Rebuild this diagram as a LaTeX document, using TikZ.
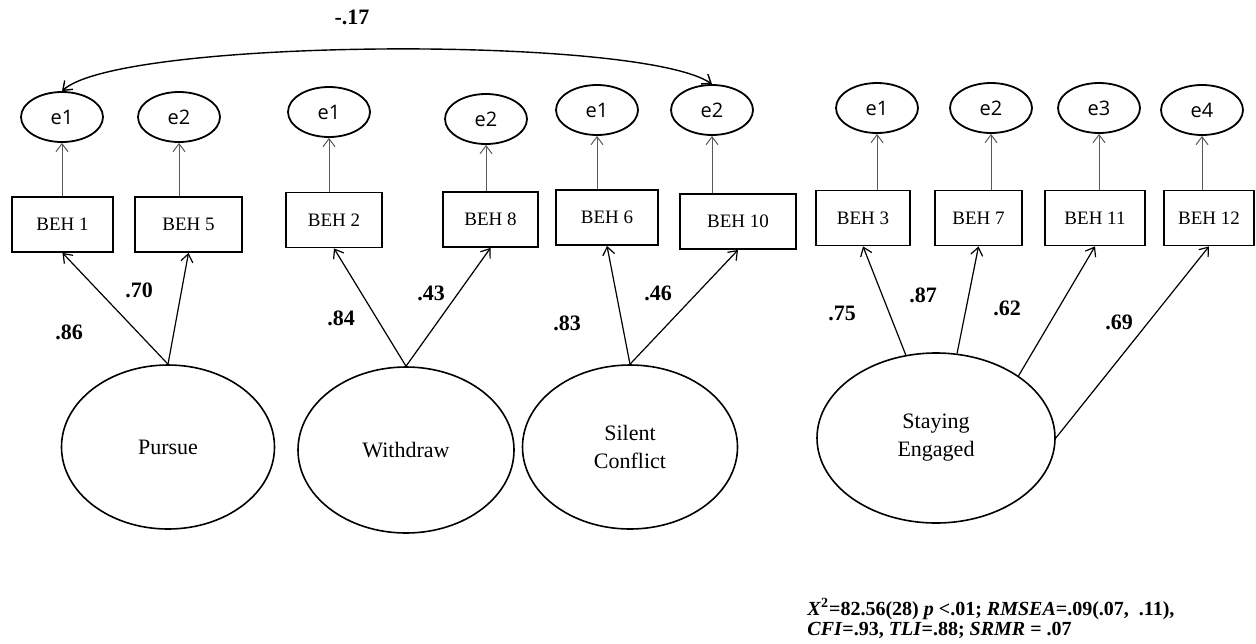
\documentclass[tikz,border=0pt]{standalone}
\usepackage{fontspec}
\setmainfont{Liberation Serif}
\newfontfamily\efont{Open Sans}
\usetikzlibrary{shapes.geometric,arrows.meta}
\begin{document}
\begin{tikzpicture}[x=0.5pt,y=-0.5pt,
  errell/.style={ellipse,draw,line width=0.9pt,minimum width=41pt,minimum height=25pt,inner sep=0pt,font=\efont\fontsize{10}{12}\selectfont},
  obs/.style={rectangle,draw,line width=0.9pt,minimum height=27.5pt,inner sep=0pt,font=\fontsize{9.5}{11}\selectfont},
  lat/.style={ellipse,draw,line width=0.8pt,inner sep=0pt,align=center,font=\fontsize{11}{14}\selectfont},
  errarr/.style={draw=black!65,line width=0.5pt,-{Straight Barb[length=4pt,width=6pt]}},
  loadarr/.style={line width=0.6pt,-{Straight Barb[length=4pt,width=6pt]}},
  coef/.style={font=\bfseries\fontsize{11}{13}\selectfont,inner sep=0pt},
  fit/.style={anchor=west,inner sep=0pt,font=\bfseries\fontsize{10}{12}\selectfont}]
\useasboundingbox (0,0) rectangle (1256,643);

% observed indicators
\node[obs,minimum width=50.5pt] (b1) at (62.5,224.5) {BEH 1};
\node[obs,minimum width=53.5pt] (b5) at (188.5,224.5) {BEH 5};
\node[obs,minimum width=48pt] (b2) at (334,220) {BEH 2};
\node[obs,minimum width=47.5pt] (b8) at (490.5,219.5) {BEH 8};
\node[obs,minimum width=51pt] (b6) at (607,217.5) {BEH 6};
\node[obs,minimum width=58pt] (b10) at (738,221.5) {BEH 10};
\node[obs,minimum width=47pt] (b3) at (863,218) {BEH 3};
\node[obs,minimum width=43.5pt] (b7) at (978.5,218) {BEH 7};
\node[obs,minimum width=50pt] (b11) at (1095,218) {BEH 11};
\node[obs,minimum width=45pt] (b12) at (1209,218) {BEH 12};

% error terms
\node[errell] (pe1) at (62,117) {e1};
\node[errell] (pe2) at (179,117) {e2};
\node[errell] (we1) at (329,112) {e1};
\node[errell] (we2) at (486,119) {e2};
\node[errell] (se1) at (597,110) {e1};
\node[errell] (se2) at (712,110) {e2};
\node[errell] (ge1) at (877,108) {e1};
\node[errell] (ge2) at (991,108) {e2};
\node[errell] (ge3) at (1099,108) {e3};
\node[errell] (ge4) at (1202,110) {e4};

\draw[errarr] (pe1.south |- b1.north) -- (pe1.south);
\draw[errarr] (pe2.south |- b5.north) -- (pe2.south);
\draw[errarr] (we1.south |- b2.north) -- (we1.south);
\draw[errarr] (we2.south |- b8.north) -- (we2.south);
\draw[errarr] (se1.south |- b6.north) -- (se1.south);
\draw[errarr] (se2.south |- b10.north) -- (se2.south);
\draw[errarr] (ge1.south |- b3.north) -- (ge1.south);
\draw[errarr] (ge2.south |- b7.north) -- (ge2.south);
\draw[errarr] (ge3.south |- b11.north) -- (ge3.south);
\draw[errarr] (ge4.south |- b12.north) -- (ge4.south);

% latent factors
\node[lat,minimum width=106.5pt,minimum height=82pt] (P) at (168,447) {Pursue};
\node[lat,minimum width=108pt,minimum height=83pt] (W) at (406,450) {Withdraw};
\node[lat,minimum width=107.5pt,minimum height=82pt] (S) at (630,447) {Silent\\Conflict};
\node[lat,minimum width=119pt,minimum height=85pt] (G) at (936,438) {Staying\\Engaged};

% loadings
\draw[loadarr] (P.north) -- (b1.south);
\draw[loadarr] (P.north) -- (b5.south);
\draw[loadarr] (W.north) -- (b2.south);
\draw[loadarr] (W.north) -- (b8.south);
\draw[loadarr] (S.north) -- (b6.south);
\draw[loadarr] (S.north) -- (b10.south);
\draw[loadarr] (G.110) -- (b3.south);
\draw[loadarr] (G.76) -- (b7.south);
\draw[loadarr] (G.37) -- (b11.south);
\draw[loadarr] (G.east) -- (b12.south);

\node[coef] (l86) at (69,332) {.86};
\node[coef] (l70) at (139,290) {.70};
\node[coef] (l84) at (341,318) {.84};
\node[coef] (l43) at (431,293) {.43};
\node[coef] (l83) at (567,323) {.83};
\node[coef] (l46) at (658,293) {.46};
\node[coef] (l75) at (842,313) {.75};
\node[coef] (l87) at (923,295) {.87};
\node[coef] (l62) at (1007,308) {.62};
\node[coef] (l69) at (1119,322) {.69};

% correlated errors
\draw[line width=0.7pt,{Straight Barb[length=4pt,width=6pt]}-{Straight Barb[length=4pt,width=6pt]}]
  (pe1.north) .. controls (120,38) and (640,35) .. (se2.north);
\node[coef] (l17) at (352,17) {-.17};

% fit indices
\node[fit] (fit1) at (807,609) {\textit{X}\textsuperscript{2}=82.56(28) \textit{p} <.01; \textit{RMSEA}=.09(.07,\ \ .11),};
\node[fit] (fit2) at (807,630) {\textit{CFI}=.93, \textit{TLI}=.88; \textit{SRMR} = .07};
\end{tikzpicture}
\end{document}
